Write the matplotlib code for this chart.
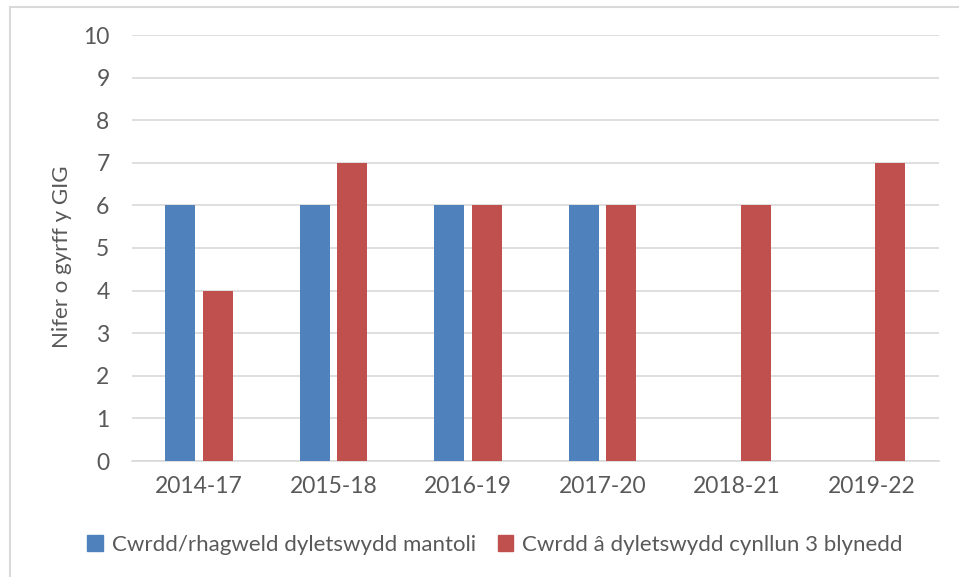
import matplotlib.pyplot as plt
import matplotlib.patches as mpatches
import numpy as np

years = ["2014-17", "2015-18", "2016-19", "2017-20", "2018-21", "2019-22"]
balance_duty = [6, 6, 6, 6, 0, 0]
plan_duty = [4, 7, 6, 6, 6, 7]
series_names = ["Cwrdd/rhagweld dyletswydd mantoli",
                "Cwrdd â dyletswydd cynllun 3 blynedd"]

plt.rcParams['font.family'] = ['Lato', 'DejaVu Sans']
text_col = '#595959'

fig = plt.figure(figsize=(9.59, 5.77), dpi=100)
W, H = 959, 577
ax = fig.add_axes([131.75 / W, 1 - 461 / H, 807 / W, 426 / H])

x = np.arange(len(years))
w = 0.223
off = 0.141
ax.bar(x - off, balance_duty, w, color='#4F81BD', zorder=3)
ax.bar(x + off, plan_duty, w, color='#C0504D', zorder=3)

ax.set_xlim(-0.5, len(years) - 0.5)
ax.set_ylim(0, 10)
ax.set_yticks(range(0, 11))
ax.set_xticks(x)
ax.set_xticklabels(years)
ax.tick_params(length=0, labelsize=16.5, colors=text_col)
ax.tick_params(axis='y', pad=16)
ax.tick_params(axis='x', pad=11)
ax.yaxis.grid(True, color='#D9D9D9', linewidth=1.2)
ax.set_axisbelow(True)
for s in ['top', 'right', 'left']:
    ax.spines[s].set_visible(False)
ax.spines['bottom'].set_color('#D9D9D9')
ax.spines['bottom'].set_linewidth(1.2)
ax.set_ylabel("Nifer o gyrff y GIG", fontsize=16, color=text_col)
ax.yaxis.set_label_coords(-0.074, 0.48)

handles = [mpatches.Patch(color='#4F81BD'), mpatches.Patch(color='#C0504D')]
fig.legend(handles, series_names, loc='center', bbox_to_anchor=(495 / W, 1 - 545 / H),
           ncol=2, frameon=False, fontsize=16, labelcolor=text_col,
           handlelength=0.7, handleheight=0.7, handletextpad=0.4, columnspacing=1.0)

# outer chart frame (only top/left edges fall inside the image)
fig.patches.append(mpatches.Rectangle((10 / W, -0.1), 1.1, 1 - 7 / H + 0.1,
                                      transform=fig.transFigure, fill=False,
                                      edgecolor='#D9D9D9', linewidth=1.5))

fig.savefig("out.png", dpi=100)
